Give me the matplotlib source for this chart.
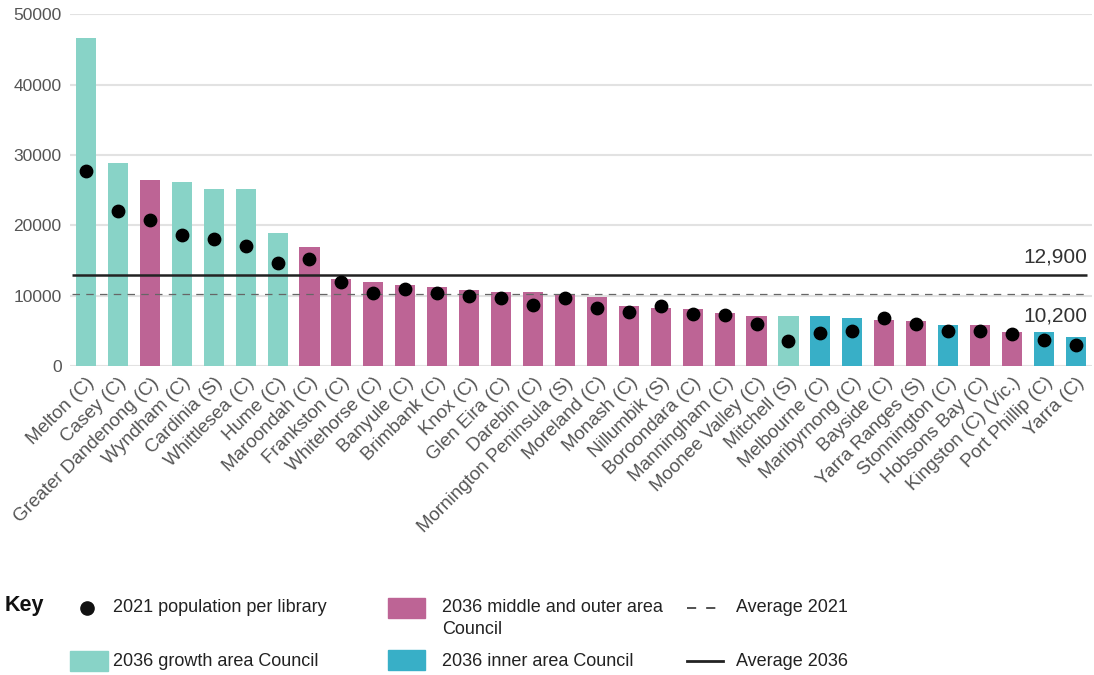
import matplotlib.pyplot as plt
from matplotlib.lines import Line2D
from matplotlib.patches import Rectangle

plt.rcParams['font.family'] = ['Liberation Sans', 'DejaVu Sans']

councils = ['Melton (C)', 'Casey (C)', 'Greater Dandenong (C)', 'Wyndham (C)', 'Cardinia (S)',
            'Whittlesea (C)', 'Hume (C)', 'Maroondah (C)', 'Frankston (C)', 'Whitehorse (C)',
            'Banyule (C)', 'Brimbank (C)', 'Knox (C)', 'Glen Eira (C)', 'Darebin (C)',
            'Mornington Peninsula (S)', 'Moreland (C)', 'Monash (C)', 'Nillumbik (S)',
            'Boroondara (C)', 'Manningham (C)', 'Moonee Valley (C)', 'Mitchell (S)',
            'Melbourne (C)', 'Maribyrnong (C)', 'Bayside (C)', 'Yarra Ranges (S)',
            'Stonnington (C)', 'Hobsons Bay (C)', 'Kingston (C) (Vic.)', 'Port Phillip (C)',
            'Yarra (C)']
# g = growth area, m = middle and outer area, i = inner area
area_type = ['g', 'g', 'm', 'g', 'g', 'g', 'g', 'm', 'm', 'm',
             'm', 'm', 'm', 'm', 'm', 'm', 'm', 'm', 'm', 'm',
             'm', 'm', 'g', 'i', 'i', 'm', 'm', 'i', 'm', 'm',
             'i', 'i']
pop_2036 = [46600, 28800, 26400, 26100, 25100, 25100, 18900, 16950, 12300, 11900,
            11500, 11270, 10750, 10500, 10500, 10040, 9800, 8520, 8290, 8050,
            7530, 7060, 7100, 7100, 6820, 6530, 6350, 5820, 5820, 4830,
            4830, 4080]
pop_2021 = [27700, 22000, 20700, 18560, 18100, 17100, 14600, 15150, 11900, 10400,
            10940, 10400, 9900, 9700, 8660, 9700, 8190, 7710, 8520, 7430,
            7240, 6010, 3500, 4730, 4970, 6770, 5970, 4970, 4970, 4500,
            3740, 2980]
avg_2036 = 12900
avg_2021 = 10200

colours = {'g': '#88d3c7', 'm': '#bd6495', 'i': '#38afc7'}
grey = '#555555'

fig = plt.figure(figsize=(10.94, 6.75), dpi=100)
ax = fig.add_axes([0.064, 0.458, 0.934, 0.521])

x = range(len(councils))
ax.bar(x, pop_2036, width=0.63, color=[colours[a] for a in area_type], zorder=2)
ax.scatter(x, pop_2021, s=80, color='black', zorder=4)

ax.hlines(avg_2036, -0.45, 31.35, color='#222222', lw=1.8, zorder=3)
ax.hlines(avg_2021, -0.45, 31.35, color='#666666', lw=0.9, linestyles=(0, (6, 5)), zorder=3)
ax.annotate('12,900', (31.35, avg_2036), xytext=(0, 6), textcoords='offset points',
            ha='right', va='bottom', fontsize=15, color='#333333')
ax.annotate('10,200', (31.35, avg_2021), xytext=(0, -9), textcoords='offset points',
            ha='right', va='top', fontsize=15, color='#333333')

ax.set_xlim(-0.5, 31.5)
ax.set_ylim(0, 50000)
ax.set_yticks(range(0, 50001, 10000))
ax.yaxis.grid(True, color='#e2e2e2', lw=1.5, zorder=0)
ax.set_axisbelow(True)
for s in ax.spines.values():
    s.set_visible(False)
ax.tick_params(axis='both', length=0, labelcolor=grey)
ax.tick_params(axis='y', pad=6, labelsize=12.5)
ax.set_xticks(list(x))
ax.set_xticklabels(councils, rotation=45, ha='right', rotation_mode='anchor')
ax.tick_params(axis='x', pad=6, labelsize=13.5)


def fx(px):
    return px / 1094


def fy(py):
    return 1 - py / 675


# key at the foot of the figure
txt = dict(fontsize=13, color='#222222', va='center', transform=fig.transFigure)
fig.text(fx(5), fy(606), 'Key', fontsize=15.5, fontweight='bold', color='#111111',
         va='center', transform=fig.transFigure)
fig.add_artist(Line2D([fx(87)], [fy(608)], marker='o', markersize=9.5, color='#111111',
                      transform=fig.transFigure))
fig.text(fx(113), fy(607), '2021 population per library', **txt)
fig.add_artist(Rectangle((fx(70), fy(671)), fx(38), 20 / 675, color=colours['g'],
                         transform=fig.transFigure))
fig.text(fx(113), fy(661), '2036 growth area Council', **txt)
fig.add_artist(Rectangle((fx(388), fy(618)), fx(37), 20 / 675, color=colours['m'],
                         transform=fig.transFigure))
fig.text(fx(442), fy(607), '2036 middle and outer area', **txt)
fig.text(fx(442), fy(630), 'Council', **txt)
fig.add_artist(Rectangle((fx(388), fy(670)), fx(37), 20 / 675, color=colours['i'],
                         transform=fig.transFigure))
fig.text(fx(442), fy(661), '2036 inner area Council', **txt)
fig.add_artist(Line2D([fx(687), fx(723)], [fy(608), fy(608)], color='#333333', lw=1.2,
                      linestyle=(0, (5.5, 6)), transform=fig.transFigure))
fig.text(fx(736), fy(607), 'Average 2021', **txt)
fig.add_artist(Line2D([fx(687), fx(723)], [fy(661), fy(661)], color='#222222', lw=2,
                      transform=fig.transFigure))
fig.text(fx(736), fy(661), 'Average 2036', **txt)

fig.savefig('out.png', dpi=100)
